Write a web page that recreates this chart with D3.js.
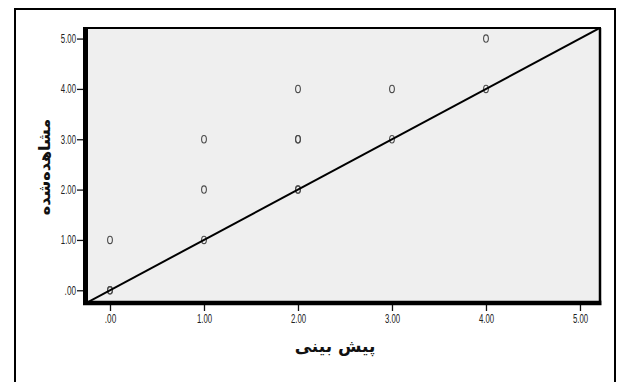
<!DOCTYPE html>
<html>
<head>
<meta charset="utf-8">
<script src="https://cdn.jsdelivr.net/npm/d3@7"></script>
<style>
  html, body { margin: 0; padding: 0; background: #fff; }
  svg { display: block; }
  .tick text { font-family: "Liberation Sans", Arial, sans-serif; font-size: 12px; fill: #222; }
  .tick line { stroke: #111; stroke-width: 1.3; }
  .title { font-family: "DejaVu Sans", sans-serif; font-weight: bold; fill: #111; }
</style>
</head>
<body>
<script>
// Predicted vs. observed scores
const predicted = [0, 0, 0, 1, 1, 1, 2, 2, 2, 2, 2, 3, 3, 4, 4];
const observed  = [0, 0, 1, 1, 2, 3, 2, 2, 3, 3, 4, 3, 4, 4, 5];
const tickValues = [0, 1, 2, 3, 4, 5];
const tickLabels = [".00", "1.00", "2.00", "3.00", "4.00", "5.00"];
const xTitle = "پیش بینی";
const yTitle = "مشاهده‌شده";

const W = 619, H = 382;
const plot = { left: 88, right: 600, top: 28, bottom: 301 };

const svg = d3.select("body").append("svg").attr("width", W).attr("height", H);

// outer frame
svg.append("rect")
  .attr("x", 15).attr("y", 9).attr("width", 600).attr("height", 390)
  .attr("fill", "#fff").attr("stroke", "#000").attr("stroke-width", 2);

const x = d3.scaleLinear().domain([-0.234, 5.213]).range([plot.left, plot.right]);
const y = d3.scaleLinear().domain([-0.213, 5.21]).range([plot.bottom, plot.top]);

// plot background
svg.append("rect")
  .attr("x", plot.left).attr("y", plot.top)
  .attr("width", plot.right - plot.left).attr("height", plot.bottom - plot.top)
  .attr("fill", "#efefef");

svg.append("clipPath").attr("id", "plot-clip")
  .append("rect")
  .attr("x", plot.left).attr("y", plot.top)
  .attr("width", plot.right - plot.left).attr("height", plot.bottom - plot.top);

const fmt = d => tickLabels[tickValues.indexOf(d)];

// condensed tick labels
const narrow = g => g.selectAll(".tick text")
  .attr("lengthAdjust", "spacingAndGlyphs")
  .attr("textLength", function () { return this.textContent.length * 3.8; });

// axes
svg.append("g")
  .attr("transform", `translate(${plot.left - 5},0)`)
  .call(d3.axisLeft(y).tickValues(tickValues).tickFormat(fmt).tickSize(6).tickPadding(1))
  .call(g => g.select(".domain").remove())
  .call(narrow);

svg.append("g")
  .attr("transform", `translate(0,${plot.bottom + 4})`)
  .call(d3.axisBottom(x).tickValues(tickValues).tickFormat(fmt).tickSize(6).tickPadding(3))
  .call(g => g.select(".domain").remove())
  .call(narrow);

// points
const pts = predicted.map((p, i) => ({ p, o: observed[i] }));
svg.append("g").attr("clip-path", "url(#plot-clip)")
  .selectAll("ellipse").data(pts).join("ellipse")
  .attr("cx", d => x(d.p)).attr("cy", d => y(d.o))
  .attr("rx", 2.4).attr("ry", 3.7)
  .attr("fill", "none").attr("stroke", "#4a4a4a").attr("stroke-width", 1.1);

// identity reference line
const ref = x.domain();
svg.append("line").attr("clip-path", "url(#plot-clip)")
  .attr("x1", x(ref[0])).attr("y1", y(ref[0]))
  .attr("x2", x(y.domain()[1])).attr("y2", y(y.domain()[1]))
  .attr("stroke", "#000").attr("stroke-width", 2);

// plot border: heavy left and bottom edges
svg.append("line").attr("x1", plot.left).attr("x2", plot.right + 1).attr("y1", plot.top).attr("y2", plot.top)
  .attr("stroke", "#000").attr("stroke-width", 2);
svg.append("line").attr("x1", plot.right).attr("x2", plot.right).attr("y1", plot.top).attr("y2", plot.bottom)
  .attr("stroke", "#000").attr("stroke-width", 2.5);
svg.append("line").attr("x1", plot.left - 2.5).attr("x2", plot.left - 2.5).attr("y1", plot.top - 1).attr("y2", plot.bottom + 4)
  .attr("stroke", "#000").attr("stroke-width", 5);
svg.append("line").attr("x1", plot.left - 5).attr("x2", plot.right + 1.5).attr("y1", plot.bottom + 2).attr("y2", plot.bottom + 2)
  .attr("stroke", "#000").attr("stroke-width", 4.5);

// axis titles
svg.append("text").attr("class", "title")
  .attr("x", 335).attr("y", 352)
  .attr("text-anchor", "middle").attr("font-size", 17)
  .attr("direction", "rtl")
  .text(xTitle);

svg.append("text").attr("class", "title")
  .attr("transform", "translate(50,167) rotate(-90)")
  .attr("text-anchor", "middle").attr("font-size", 16)
  .attr("direction", "rtl")
  .text(yTitle);
</script>
</body>
</html>
